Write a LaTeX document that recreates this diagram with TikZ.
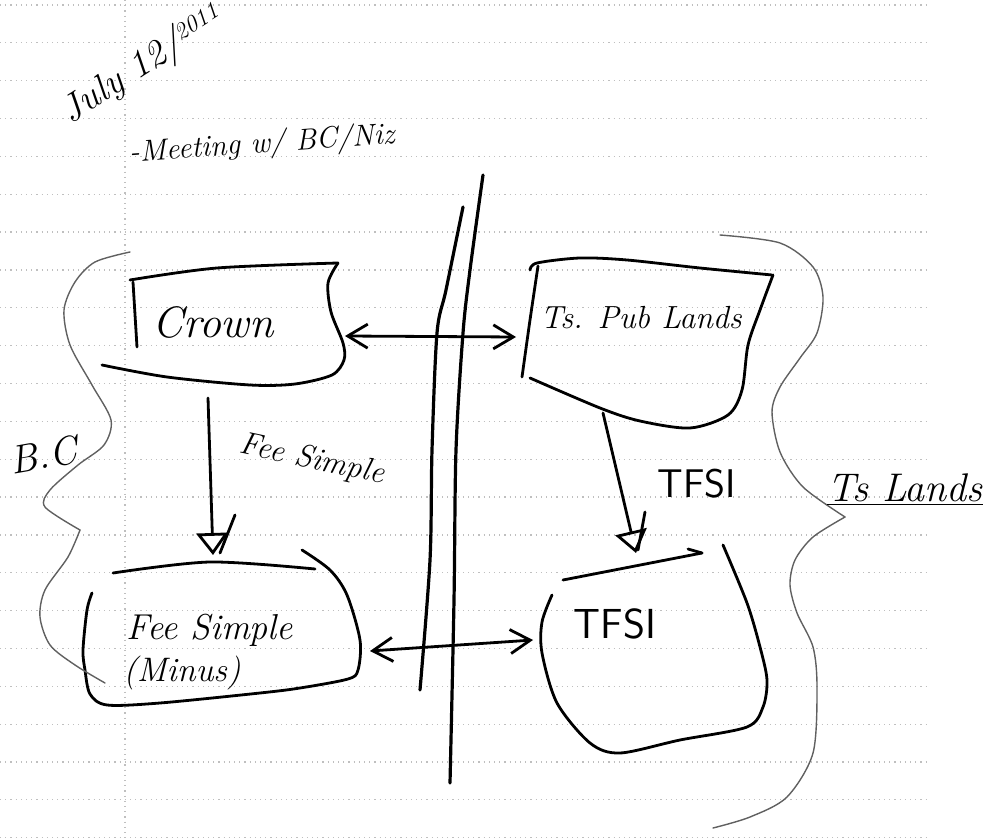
\documentclass[tikz,border=0pt]{standalone}
\usepackage{fontspec}
\usepackage{xcolor}
\usepackage{tikz}
\usetikzlibrary{math,arrows.meta}

\newcommand{\penfont}[1]{\fontsize{#1}{#1}\selectfont}

\begin{document}
\begin{tikzpicture}[x=0.5pt,y=-0.5pt,
	pen/.style={line width=1.4pt,line cap=round,line join=round},
	faint/.style={line width=0.7pt,gray!75!black,line cap=round},
	rule/.style={gray!50,line width=0.6pt,dotted},
	barbs/.style={{Straight Barb[length=10pt,width=12pt]}-{Straight Barb[length=10pt,width=12pt]}},
	tri/.style={-{Triangle[open,length=11pt,width=16pt]}},
	hand/.style={font=\itshape,inner sep=0pt}]
\useasboundingbox (0,0) rectangle (994,838);
% ruled paper
\foreach \k in {0,...,22}
	\draw[rule] (0,{5+\k*37.85}) -- (928,{5+\k*37.85});
\draw[rule] (125,0) -- (125,838);
\tikzmath{
	\wl = 1.6;
	{\node[hand,rotate=33] (date) at (143,66) {\penfont{19}July 12/\raisebox{5pt}{\penfont{12}2011}};};
	{\node[hand,rotate=4] (meet) at (262,145) {\penfont{15}-Meeting w/ BC/Niz};};
	%
	{\coordinate (crownE) at (345,336);};
	{\coordinate (crownS) at (208,398);};
	{\coordinate (tspubW) at (516,337);};
	{\coordinate (tspubS) at (603,413);};
	{\coordinate (feeN) at (213,555);};
	{\coordinate (feeE) at (370,651);};
	{\coordinate (tfsiN) at (636,553);};
	{\coordinate (tfsiW) at (533,640);};
	%
	{\draw[pen] plot[smooth] coordinates {(130,280) (217,268) (338,263)};};
	{\draw[pen] plot[smooth] coordinates {(338,263) (328,283) (331,312) (343,343) (344,360) (332,375) (295,384) (250,385) (167,377) (102,365)};};
	{\draw[pen] (133,282) -- (137,347);};
	{\node[hand] (crown) at (213,322) {\penfont{22}Crown};};
	%
	{\draw[pen] plot[smooth] coordinates {(530,270) (537,263) (580,258) (627,260) (700,268) (772,275)};};
	{\draw[pen] plot[smooth] coordinates {(538,266) (530,320) (522,377)};};
	{\draw[pen] plot[smooth] coordinates {(773,275) (760,310) (748,345) (742,390) (728,415) (690,428) (640,421) (600,408) (530,378)};};
	{\node[hand] (tspub) at (641,318) {\penfont{16}Ts. Pub Lands};};
	%
	{\draw[pen] plot[smooth] coordinates {(113,573) (210,562) (315,569)};};
	{\draw[pen] plot[smooth] coordinates {(302,550) (330,570) (347,595) (360,640) (358,670) (348,679) (300,688) (260,693) (160,703) (107,705) (90,694) (85,670) (83,650) (87,610) (92,593)};};
	{\node[hand] (fee) at (210,630) {\penfont{18}Fee Simple};};
	{\node[hand] (minus) at (182,673) {\penfont{17}(Minus)};};
	%
	{\draw[pen] (563,580) -- (702,553);};
	{\draw[pen] (688,549) -- (702,553);};
	{\draw[pen] plot[smooth] coordinates {(552,595) (542,622) (542,653) (557,703) (590,743) (620,753) (680,740) (747,727) (763,707) (767,680) (760,647) (747,603) (723,545)};};
	{\node[font=\sffamily,inner sep=0pt] (tfsi) at (615,624) {\penfont{21}TFSI};};
	%
	{\draw[pen,line width=\wl pt] plot[smooth] coordinates {(463,207) (446,290) (437,333) (432,450) (430,560) (420,690)};};
	{\draw[pen,line width=\wl pt] plot[smooth] coordinates {(483,175) (470,270) (463,333) (456,450) (454,600) (450,783)};};
	%
	{\draw[faint] plot[smooth] coordinates {(130,252) (95,262) (75,282) (64,310) (70,345) (92,385) (111,420) (104,445) (78,465) (50,490) (45,507) (80,530)};};
	{\draw[faint] plot[smooth] coordinates {(80,530) (68,557) (45,590) (40,617) (50,645) (75,665) (105,683)};};
	{\node[hand,rotate=10] (bc) at (43,455) {\penfont{20}B.C};};
	%
	{\draw[faint] plot[smooth] coordinates {(720,235) (780,243) (813,267) (823,297) (817,333) (800,358) (780,387) (772,412) (780,452) (803,487) (845,517)};};
	{\draw[faint] plot[smooth] coordinates {(845,517) (813,537) (795,560) (790,585) (797,613) (813,647) (817,687) (813,753) (787,797) (750,817) (713,828)};};
	{\node[hand] (tslands) at (905,490) {\penfont{20}\underline{Ts Lands}};};
	%
	{\draw[pen,barbs] (crownE) -- (tspubW);};
	{\draw[pen,tri] (crownS) -- (feeN);};
	{\draw[pen] (235,515) -- (220,553);};
	{\node[hand,rotate=-12] (feelab) at (312,460) {\penfont{16}Fee Simple};};
	{\draw[pen,barbs] (feeE) -- (tfsiW);};
	{\draw[pen,tri] (tspubS) -- (tfsiN);};
	{\draw[pen] (645,512) -- (638,550);};
	{\node[font=\sffamily,inner sep=0pt] (tfsilab) at (697,484) {\penfont{20}TFSI};};
};
\end{tikzpicture}
\end{document}
